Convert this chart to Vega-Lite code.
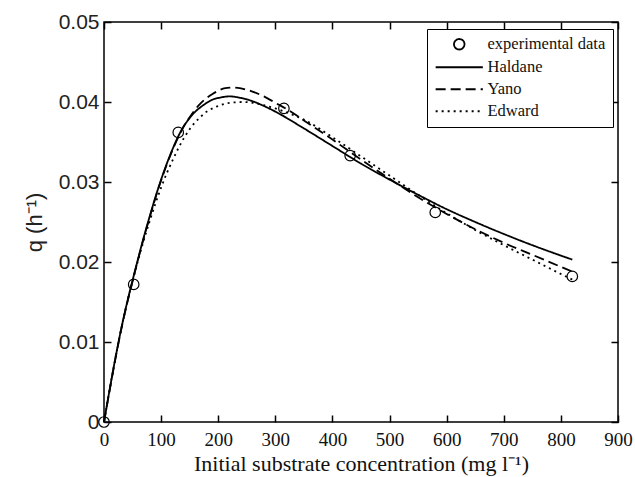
{
  "$schema": "https://vega.github.io/schema/vega-lite/v6.json",
  "autosize": {"type": "none"},
  "width": 514,
  "height": 400,
  "padding": {"left": 104, "top": 22, "right": 17, "bottom": 55},
  "background": "white",
  "config": {
    "view": {"stroke": "black", "strokeWidth": 1.5},
    "axis": {"grid": false, "domain": false, "tickColor": "black", "tickWidth": 1.5, "tickSize": 7, "offset": -7}
  },
  "resolve": {"axis": {"x": "independent", "y": "independent"}},
  "datasets": {
    "curves": [
      {"S": 0, "q": 0, "series": "Haldane"},
      {"S": 10, "q": 0.0041, "series": "Haldane"},
      {"S": 20, "q": 0.0080, "series": "Haldane"},
      {"S": 30, "q": 0.0116, "series": "Haldane"},
      {"S": 40, "q": 0.0148, "series": "Haldane"},
      {"S": 50, "q": 0.0177, "series": "Haldane"},
      {"S": 60, "q": 0.0205, "series": "Haldane"},
      {"S": 70, "q": 0.0232, "series": "Haldane"},
      {"S": 80, "q": 0.0257, "series": "Haldane"},
      {"S": 90, "q": 0.0281, "series": "Haldane"},
      {"S": 100, "q": 0.0303, "series": "Haldane"},
      {"S": 110, "q": 0.0323, "series": "Haldane"},
      {"S": 120, "q": 0.0341, "series": "Haldane"},
      {"S": 130, "q": 0.0357, "series": "Haldane"},
      {"S": 140, "q": 0.0370, "series": "Haldane"},
      {"S": 150, "q": 0.0380, "series": "Haldane"},
      {"S": 160, "q": 0.0388, "series": "Haldane"},
      {"S": 170, "q": 0.0394, "series": "Haldane"},
      {"S": 180, "q": 0.0399, "series": "Haldane"},
      {"S": 190, "q": 0.0403, "series": "Haldane"},
      {"S": 200, "q": 0.0405, "series": "Haldane"},
      {"S": 220, "q": 0.0407, "series": "Haldane"},
      {"S": 240, "q": 0.0405, "series": "Haldane"},
      {"S": 260, "q": 0.0401, "series": "Haldane"},
      {"S": 280, "q": 0.0395, "series": "Haldane"},
      {"S": 300, "q": 0.0388, "series": "Haldane"},
      {"S": 350, "q": 0.0367, "series": "Haldane"},
      {"S": 400, "q": 0.0345, "series": "Haldane"},
      {"S": 450, "q": 0.0323, "series": "Haldane"},
      {"S": 500, "q": 0.0303, "series": "Haldane"},
      {"S": 550, "q": 0.0284, "series": "Haldane"},
      {"S": 600, "q": 0.0266, "series": "Haldane"},
      {"S": 650, "q": 0.0250, "series": "Haldane"},
      {"S": 700, "q": 0.0235, "series": "Haldane"},
      {"S": 750, "q": 0.0221, "series": "Haldane"},
      {"S": 800, "q": 0.0208, "series": "Haldane"},
      {"S": 820, "q": 0.0203, "series": "Haldane"},
      {"S": 0, "q": 0, "series": "Yano"},
      {"S": 10, "q": 0.0040, "series": "Yano"},
      {"S": 20, "q": 0.0079, "series": "Yano"},
      {"S": 30, "q": 0.0115, "series": "Yano"},
      {"S": 40, "q": 0.0147, "series": "Yano"},
      {"S": 50, "q": 0.0176, "series": "Yano"},
      {"S": 60, "q": 0.0204, "series": "Yano"},
      {"S": 70, "q": 0.0231, "series": "Yano"},
      {"S": 80, "q": 0.0256, "series": "Yano"},
      {"S": 90, "q": 0.0280, "series": "Yano"},
      {"S": 100, "q": 0.0302, "series": "Yano"},
      {"S": 110, "q": 0.0322, "series": "Yano"},
      {"S": 120, "q": 0.0340, "series": "Yano"},
      {"S": 130, "q": 0.0356, "series": "Yano"},
      {"S": 140, "q": 0.0370, "series": "Yano"},
      {"S": 150, "q": 0.0381, "series": "Yano"},
      {"S": 160, "q": 0.0391, "series": "Yano"},
      {"S": 170, "q": 0.0399, "series": "Yano"},
      {"S": 180, "q": 0.0405, "series": "Yano"},
      {"S": 190, "q": 0.0410, "series": "Yano"},
      {"S": 200, "q": 0.0414, "series": "Yano"},
      {"S": 210, "q": 0.0417, "series": "Yano"},
      {"S": 226, "q": 0.0418, "series": "Yano"},
      {"S": 240, "q": 0.0417, "series": "Yano"},
      {"S": 260, "q": 0.0413, "series": "Yano"},
      {"S": 280, "q": 0.0407, "series": "Yano"},
      {"S": 300, "q": 0.0399, "series": "Yano"},
      {"S": 320, "q": 0.0391, "series": "Yano"},
      {"S": 350, "q": 0.0377, "series": "Yano"},
      {"S": 400, "q": 0.0353, "series": "Yano"},
      {"S": 450, "q": 0.0328, "series": "Yano"},
      {"S": 500, "q": 0.0304, "series": "Yano"},
      {"S": 550, "q": 0.0281, "series": "Yano"},
      {"S": 600, "q": 0.0260, "series": "Yano"},
      {"S": 650, "q": 0.0241, "series": "Yano"},
      {"S": 700, "q": 0.0224, "series": "Yano"},
      {"S": 750, "q": 0.0209, "series": "Yano"},
      {"S": 800, "q": 0.0194, "series": "Yano"},
      {"S": 820, "q": 0.0188, "series": "Yano"},
      {"S": 0, "q": 0, "series": "Edward"},
      {"S": 10, "q": 0.0041, "series": "Edward"},
      {"S": 20, "q": 0.0080, "series": "Edward"},
      {"S": 30, "q": 0.0116, "series": "Edward"},
      {"S": 40, "q": 0.0148, "series": "Edward"},
      {"S": 50, "q": 0.0176, "series": "Edward"},
      {"S": 60, "q": 0.0203, "series": "Edward"},
      {"S": 70, "q": 0.0228, "series": "Edward"},
      {"S": 80, "q": 0.0251, "series": "Edward"},
      {"S": 90, "q": 0.0273, "series": "Edward"},
      {"S": 100, "q": 0.0293, "series": "Edward"},
      {"S": 110, "q": 0.0311, "series": "Edward"},
      {"S": 120, "q": 0.0327, "series": "Edward"},
      {"S": 130, "q": 0.0342, "series": "Edward"},
      {"S": 140, "q": 0.0355, "series": "Edward"},
      {"S": 150, "q": 0.0366, "series": "Edward"},
      {"S": 160, "q": 0.0375, "series": "Edward"},
      {"S": 170, "q": 0.0382, "series": "Edward"},
      {"S": 180, "q": 0.0388, "series": "Edward"},
      {"S": 190, "q": 0.0392, "series": "Edward"},
      {"S": 200, "q": 0.0395, "series": "Edward"},
      {"S": 220, "q": 0.0399, "series": "Edward"},
      {"S": 245, "q": 0.0400, "series": "Edward"},
      {"S": 260, "q": 0.0399, "series": "Edward"},
      {"S": 280, "q": 0.0396, "series": "Edward"},
      {"S": 300, "q": 0.0392, "series": "Edward"},
      {"S": 320, "q": 0.0387, "series": "Edward"},
      {"S": 350, "q": 0.0378, "series": "Edward"},
      {"S": 400, "q": 0.0356, "series": "Edward"},
      {"S": 450, "q": 0.0332, "series": "Edward"},
      {"S": 500, "q": 0.0308, "series": "Edward"},
      {"S": 550, "q": 0.0284, "series": "Edward"},
      {"S": 600, "q": 0.0261, "series": "Edward"},
      {"S": 650, "q": 0.0240, "series": "Edward"},
      {"S": 700, "q": 0.0221, "series": "Edward"},
      {"S": 750, "q": 0.0203, "series": "Edward"},
      {"S": 800, "q": 0.0185, "series": "Edward"},
      {"S": 820, "q": 0.0178, "series": "Edward"}
    ],
    "exp": [
      {"S": 0, "q": 0, "series": "experimental data"},
      {"S": 52, "q": 0.0172, "series": "experimental data"},
      {"S": 130, "q": 0.0362, "series": "experimental data"},
      {"S": 315, "q": 0.0392, "series": "experimental data"},
      {"S": 431, "q": 0.0333, "series": "experimental data"},
      {"S": 580, "q": 0.0262, "series": "experimental data"},
      {"S": 820, "q": 0.0182, "series": "experimental data"}
    ]
  },
  "layer": [
    {
      "data": {"name": "curves"},
      "mark": {"type": "line", "color": "black", "strokeWidth": 1.8, "interpolate": "monotone"},
      "encoding": {
        "x": {
          "field": "S", "type": "quantitative",
          "scale": {"domain": [0, 900], "nice": false, "zero": false},
          "axis": {
            "orient": "bottom",
            "values": [0, 100, 200, 300, 400, 500, 600, 700, 800, 900],
            "labelFont": "Liberation Serif", "labelFontSize": 19, "labelColor": "#111",
            "labelPadding": 8, "labelFlush": false,
            "title": "Initial substrate concentration (mg l⁻¹)",
            "titleFont": "Liberation Serif", "titleFontSize": 22, "titleFontWeight": "normal", "titleColor": "#111",
            "titlePadding": 4
          }
        },
        "y": {
          "field": "q", "type": "quantitative",
          "scale": {"domain": [0, 0.05], "nice": false},
          "axis": {
            "orient": "left",
            "values": [0, 0.01, 0.02, 0.03, 0.04, 0.05],
            "labelExpr": "datum.value == 0 ? '0' : format(datum.value, '.2f')",
            "labelFont": "Liberation Sans", "labelFontSize": 21, "labelColor": "#222",
            "labelPadding": 5, "labelFlush": false,
            "title": "q (h⁻¹)",
            "titleFont": "Liberation Sans", "titleFontSize": 22, "titleFontWeight": "normal", "titleColor": "#222",
            "titlePadding": 12
          }
        },
        "strokeDash": {
          "field": "series", "type": "nominal",
          "scale": {"domain": ["experimental data", "Haldane", "Yano", "Edward"], "range": [[1, 0], [1, 0], [10, 5], [2, 4]]},
          "legend": {
            "title": null, "orient": "none", "legendX": 323, "legendY": 7,
            "strokeColor": "black", "fillColor": "white", "padding": 7,
            "labelFont": "Liberation Serif", "labelFontSize": 16.5, "labelColor": "#111",
            "symbolStrokeColor": "black", "symbolStrokeWidth": 1.8, "symbolFillColor": "transparent",
            "symbolSize": 110, "symbolOffset": 17, "labelOffset": 20, "rowPadding": 5
          }
        }
      }
    },
    {
      "data": {"name": "exp"},
      "mark": {"type": "point", "filled": false, "color": "black", "strokeWidth": 1.2, "opacity": 1, "size": 110},
      "encoding": {
        "x": {"field": "S", "type": "quantitative", "axis": null},
        "y": {"field": "q", "type": "quantitative", "axis": null},
        "shape": {
          "field": "series", "type": "nominal",
          "scale": {"domain": ["experimental data", "Haldane", "Yano", "Edward"], "range": ["circle", "M-4.5,0H4.5", "M-4.5,0H4.5", "M-4.5,0H4.5"]},
          "legend": null
        }
      }
    },
    {
      "data": {"name": "exp"},
      "mark": {"type": "point", "opacity": 0},
      "encoding": {
        "x": {"field": "S", "type": "quantitative", "axis": {"orient": "top", "values": [0, 100, 200, 300, 400, 500, 600, 700, 800, 900], "labels": false, "title": null}},
        "y": {"field": "q", "type": "quantitative", "axis": {"orient": "right", "values": [0, 0.01, 0.02, 0.03, 0.04, 0.05], "labels": false, "title": null}}
      }
    }
  ]
}
